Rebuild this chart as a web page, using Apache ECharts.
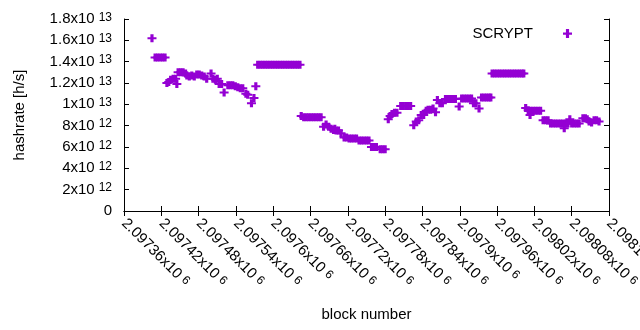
<!DOCTYPE html>
<html>
<head>
<meta charset="utf-8">
<script src="https://cdn.jsdelivr.net/npm/echarts@6/dist/echarts.min.js"></script>
<style>
  html, body { margin: 0; padding: 0; background: #fff; }
  #chart { width: 640px; height: 330px; }
</style>
</head>
<body>
<div id="chart"></div>
<script>
// block numbers
const blocks = [
  2097405, 2097410, 2097414, 2097418, 2097422, 2097426, 2097429, 2097432, 2097435, 2097439,
  2097443, 2097445, 2097447, 2097451, 2097455, 2097459, 2097461, 2097465, 2097469, 2097473,
  2097477, 2097481, 2097485, 2097489, 2097493, 2097500, 2097503, 2097507, 2097510, 2097513,
  2097517, 2097521, 2097527, 2097531, 2097535, 2097539, 2097543, 2097547, 2097551, 2097556,
  2097559, 2097565, 2097569, 2097572,
  2097575, 2097579, 2097583, 2097587, 2097591, 2097595, 2097599, 2097603, 2097607, 2097611,
  2097615, 2097619, 2097623, 2097627, 2097631, 2097635, 2097639, 2097643,
  2097645, 2097649, 2097653, 2097657, 2097661, 2097665, 2097669, 2097673, 2097677,
  2097681, 2097685, 2097689, 2097693, 2097697, 2097699, 2097701, 2097705, 2097709, 2097714,
  2097718, 2097722, 2097726, 2097730, 2097734, 2097738, 2097742, 2097746, 2097750, 2097754,
  2097758, 2097762, 2097766, 2097772, 2097776, 2097780,
  2097785, 2097788, 2097791, 2097795, 2097799, 2097805, 2097809, 2097813, 2097817, 2097821,
  2097826, 2097830, 2097834, 2097838, 2097842, 2097846, 2097849, 2097853, 2097857, 2097861,
  2097864, 2097868, 2097872, 2097877, 2097881, 2097885, 2097889, 2097893, 2097899, 2097903,
  2097907, 2097911, 2097915, 2097919, 2097922, 2097926, 2097931, 2097935, 2097939, 2097943,
  2097947, 2097950,
  2097952, 2097956, 2097960, 2097964, 2097968, 2097972, 2097976, 2097980, 2097984, 2097988,
  2097992, 2097996, 2098000, 2098003,
  2098006, 2098010, 2098013, 2098014, 2098018, 2098022, 2098026, 2098030, 2098034, 2098038,
  2098042, 2098046, 2098050, 2098054, 2098058, 2098062, 2098066, 2098068, 2098070, 2098074,
  2098077, 2098080, 2098084, 2098088, 2098092, 2098098, 2098102, 2098105, 2098108, 2098112,
  2098116, 2098120, 2098124
];

// hashrate in units of 10^12 h/s, one per block above
const hashrateE12 = [
  16.2, 14.4, 14.4, 14.4, 14.4, 14.4, 12.0, 12.1, 12.3, 12.4,
  12.4, 11.9, 13.0, 13.0, 13.0, 12.9, 12.7, 12.6, 12.7, 12.6,
  12.8, 12.8, 12.7, 12.6, 12.4, 12.9, 12.4, 12.3, 12.4, 11.9,
  11.9, 11.1, 11.8, 11.8, 11.8, 11.7, 11.6, 11.5, 11.5, 11.0,
  10.9, 10.1, 10.6, 11.7,
  13.7, 13.7, 13.7, 13.7, 13.7, 13.7, 13.7, 13.7, 13.7, 13.7,
  13.7, 13.7, 13.7, 13.7, 13.7, 13.7, 13.7, 13.7,
  8.9, 8.8, 8.8, 8.8, 8.8, 8.8, 8.8, 8.8, 8.8,
  7.9, 8.1, 7.9, 7.7, 7.6, 7.7, 7.55, 7.55, 7.3, 6.9,
  6.9, 6.8, 6.8, 6.8, 6.8, 6.6, 6.6, 6.6, 6.6, 6.6,
  6.0, 6.0, 6.0, 5.8, 5.8, 5.8,
  8.6, 8.9, 9.1, 9.2, 9.2, 9.85, 9.85, 9.85, 9.85, 9.85,
  8.05, 8.4, 8.5, 9.0, 9.0, 9.4, 9.5, 9.5, 9.6, 9.25,
  10.4, 10.1, 10.1, 10.5, 10.5, 10.5, 10.5, 10.5, 9.8, 10.55,
  10.55, 10.55, 10.55, 10.55, 10.1, 10.1, 9.6, 10.65, 10.65, 10.65,
  10.65, 10.65,
  12.9, 12.9, 12.9, 12.9, 12.9, 12.9, 12.9, 12.9, 12.9, 12.9,
  12.9, 12.9, 12.9, 12.9,
  9.65, 9.45, 9.0, 9.4, 9.4, 9.4, 9.4, 9.4, 8.5, 8.5,
  8.5, 8.2, 8.2, 8.2, 8.2, 8.2, 8.2, 7.75, 8.2, 8.2,
  8.6, 8.2, 8.2, 8.2, 8.2, 8.7, 8.7, 8.6, 8.4, 8.3,
  8.5, 8.5, 8.4
];

const xMin = 2097360, xMax = 2098140, xStep = 60;
const yMin = 0, yMax = 1.8e13, yStep = 2e12;

const FONT = "Liberation Sans";
const PURPLE = "#9400d3";
const CROSS = "path://M2.6,0H5.4V3H8V5H5.4V8H2.6V5H0V3H2.6Z";

// 1.8x10^13 style labels like gnuplot
function sci(v) {
  if (v === 0) return "0";
  const e = Math.floor(Math.log10(Math.abs(v)) + 1e-9);
  const m = parseFloat((v / Math.pow(10, e)).toPrecision(6));
  return m + "x10{sup|" + e + "}";
}

const supStyle = {
  sup: { fontSize: 12, fontFamily: FONT, color: "#000", verticalAlign: "top", padding: [0, 0, 0, 4] }
};

const chart = echarts.init(document.getElementById("chart"));

const points = blocks.map((b, i) => [b, hashrateE12[i] * 1e12]);

const axisCommon = {
  axisLine: { show: true, lineStyle: { color: "#000", width: 1 } },
  axisTick: { show: true, inside: true, length: 5, lineStyle: { color: "#000" } },
  splitLine: { show: false }
};

chart.setOption({
  animation: false,
  textStyle: { fontFamily: FONT },
  grid: { left: 124, right: 31, top: 19, bottom: 119, outerBoundsMode: "none", containLabel: false },
  legend: {
    right: 63,
    top: 21,
    align: "right",
    itemWidth: 9,
    itemHeight: 9,
    textStyle: { fontSize: 15, fontFamily: FONT, color: "#000", padding: [0, 25, 0, 0] },
    data: [{ name: "SCRYPT", icon: CROSS }]
  },
  xAxis: [
    Object.assign({
      type: "value",
      min: xMin, max: xMax, interval: xStep,
      name: "block number",
      nameLocation: "middle",
      nameGap: 96,
      nameTextStyle: { fontSize: 15, color: "#000" },
      axisLabel: {
        rotate: -45, margin: 10, fontSize: 15, color: "#000",
        showMinLabel: true, showMaxLabel: true, hideOverlap: false,
        formatter: sci, rich: supStyle
      }
    }, axisCommon),
    Object.assign({
      type: "value", position: "top",
      min: xMin, max: xMax, interval: xStep,
      axisLabel: { show: false }
    }, axisCommon)
  ],
  yAxis: [
    Object.assign({
      type: "value",
      min: yMin, max: yMax, interval: yStep,
      name: "hashrate [h/s]",
      nameLocation: "middle",
      nameGap: 97,
      nameTextStyle: { fontSize: 15, color: "#000" },
      axisLabel: {
        margin: 12, fontSize: 15, color: "#000",
        formatter: sci, rich: supStyle
      }
    }, axisCommon),
    Object.assign({
      type: "value", position: "right",
      min: yMin, max: yMax, interval: yStep,
      axisLabel: { show: false }
    }, axisCommon)
  ],
  series: [
    {
      name: "SCRYPT",
      type: "scatter",
      symbol: CROSS,
      symbolSize: [9, 8],
      itemStyle: { color: PURPLE, opacity: 1 },
      data: points
    }
  ]
});
</script>
</body>
</html>
